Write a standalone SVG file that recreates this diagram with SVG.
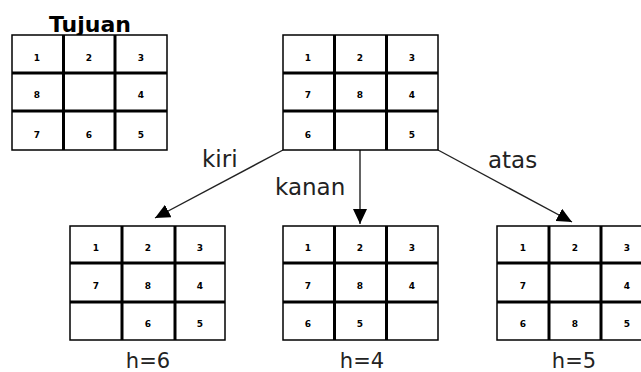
<svg xmlns="http://www.w3.org/2000/svg" width="641" height="372" viewBox="0 0 641 372">
<style>
.frame{fill:#fff;stroke:#000;stroke-width:1.5}
.inner{stroke:#000;stroke-width:3}
.d{font-family:"DejaVu Sans",sans-serif;font-weight:bold;font-size:9px;text-anchor:middle;fill:#000}
.lbl{font-family:"DejaVu Sans",sans-serif;font-size:23px;fill:#222}
.h{font-family:"DejaVu Sans",sans-serif;font-size:21px;fill:#222;text-anchor:middle}
.title{font-family:"DejaVu Sans",sans-serif;font-weight:bold;font-size:22px;fill:#000;text-anchor:middle}
.con{stroke:#222;stroke-width:1.4;fill:none}
</style>
<defs>
<marker id="ah" markerUnits="userSpaceOnUse" markerWidth="16" markerHeight="14" refX="15" refY="7" orient="auto">
<path d="M0,0 L15,7 L0,14 Z" fill="#000"/>
</marker>
</defs>

<g id="connectors">
<line class="con" x1="283" y1="150" x2="155" y2="218" marker-end="url(#ah)"/>
<line class="con" x1="360" y1="150" x2="360" y2="224" marker-end="url(#ah)"/>
<line class="con" x1="438" y1="150" x2="572" y2="222" marker-end="url(#ah)"/>
<text class="lbl" x="202" y="167">kiri</text>
<text class="lbl" x="275" y="195">kanan</text>
<text class="lbl" x="488" y="168">atas</text>
</g>

<g id="tujuan">
<text class="title" x="90" y="32">Tujuan</text>
<rect class="frame" x="12" y="35" width="155" height="115"/>
<line class="inner" x1="63.5" y1="35" x2="63.5" y2="150"/>
<line class="inner" x1="115" y1="35" x2="115" y2="150"/>
<line class="inner" x1="12" y1="73" x2="167" y2="73"/>
<line class="inner" x1="12" y1="111" x2="167" y2="111"/>
<text class="d" x="37" y="61">1</text><text class="d" x="89" y="61">2</text><text class="d" x="141" y="61">3</text>
<text class="d" x="37" y="98">8</text><text class="d" x="141" y="98">4</text>
<text class="d" x="37" y="138">7</text><text class="d" x="89" y="138">6</text><text class="d" x="141" y="138">5</text>
</g>

<g id="start">
<rect class="frame" x="283" y="35" width="155" height="115"/>
<line class="inner" x1="334.5" y1="35" x2="334.5" y2="150"/>
<line class="inner" x1="386.5" y1="35" x2="386.5" y2="150"/>
<line class="inner" x1="283" y1="73" x2="438" y2="73"/>
<line class="inner" x1="283" y1="111" x2="438" y2="111"/>
<text class="d" x="308" y="61">1</text><text class="d" x="360" y="61">2</text><text class="d" x="412" y="61">3</text>
<text class="d" x="308" y="98">7</text><text class="d" x="360" y="98">8</text><text class="d" x="412" y="98">4</text>
<text class="d" x="308" y="138">6</text><text class="d" x="412" y="138">5</text>
</g>

<g id="kiri">
<rect class="frame" x="70" y="226" width="155" height="114"/>
<line class="inner" x1="122" y1="226" x2="122" y2="340"/>
<line class="inner" x1="175" y1="226" x2="175" y2="340"/>
<line class="inner" x1="70" y1="263" x2="225" y2="263"/>
<line class="inner" x1="70" y1="302" x2="225" y2="302"/>
<text class="d" x="96" y="251">1</text><text class="d" x="148" y="251">2</text><text class="d" x="200" y="251">3</text>
<text class="d" x="96" y="289">7</text><text class="d" x="148" y="289">8</text><text class="d" x="200" y="289">4</text>
<text class="d" x="148" y="327">6</text><text class="d" x="200" y="327">5</text>
<text class="h" x="148" y="368">h=6</text>
</g>

<g id="kanan">
<rect class="frame" x="283" y="226" width="155" height="114"/>
<line class="inner" x1="334.5" y1="226" x2="334.5" y2="340"/>
<line class="inner" x1="386.5" y1="226" x2="386.5" y2="340"/>
<line class="inner" x1="283" y1="263" x2="438" y2="263"/>
<line class="inner" x1="283" y1="302" x2="438" y2="302"/>
<text class="d" x="308" y="251">1</text><text class="d" x="360" y="251">2</text><text class="d" x="412" y="251">3</text>
<text class="d" x="308" y="289">7</text><text class="d" x="360" y="289">8</text><text class="d" x="412" y="289">4</text>
<text class="d" x="308" y="327">6</text><text class="d" x="360" y="327">5</text>
<text class="h" x="362" y="368">h=4</text>
</g>

<g id="atas">
<rect class="frame" x="497" y="226" width="156" height="114"/>
<line class="inner" x1="549" y1="226" x2="549" y2="340"/>
<line class="inner" x1="601" y1="226" x2="601" y2="340"/>
<line class="inner" x1="497" y1="263" x2="653" y2="263"/>
<line class="inner" x1="497" y1="302" x2="653" y2="302"/>
<text class="d" x="523" y="251">1</text><text class="d" x="575" y="251">2</text><text class="d" x="627" y="251">3</text>
<text class="d" x="523" y="289">7</text><text class="d" x="627" y="289">4</text>
<text class="d" x="523" y="327">6</text><text class="d" x="575" y="327">8</text><text class="d" x="627" y="327">5</text>
<text class="h" x="574" y="368">h=5</text>
</g>
</svg>
